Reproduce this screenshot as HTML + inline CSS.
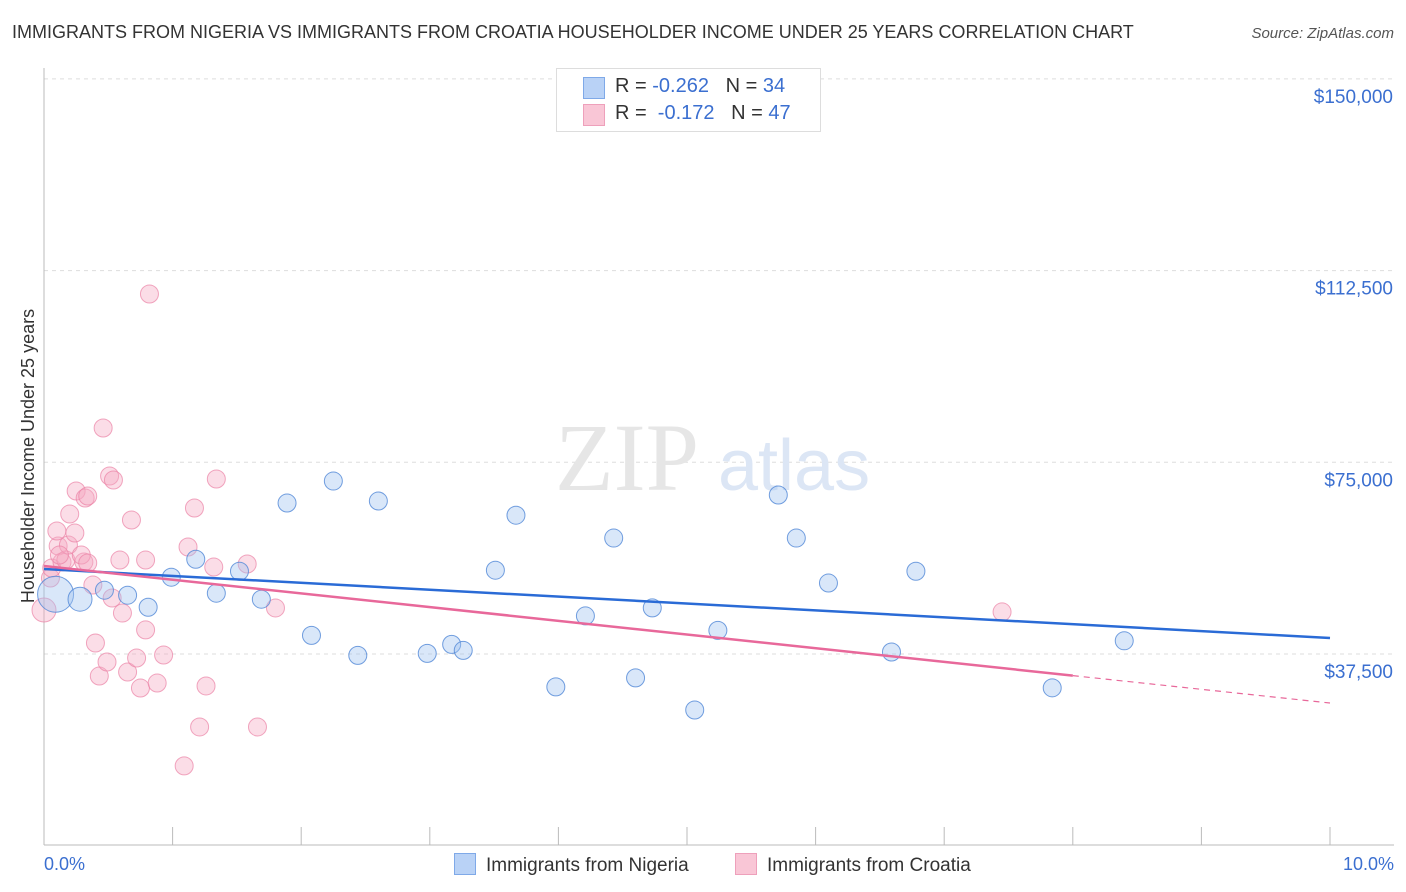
<!DOCTYPE html>
<html><head><meta charset="utf-8"><style>
body{margin:0;background:#fff;font-family:"Liberation Sans",sans-serif;}
#wrap{position:relative;width:1406px;height:892px;overflow:hidden;}
.t{position:absolute;white-space:nowrap;}
</style></head><body>
<div id="wrap">
<div class="t" style="left:12px;top:22px;font-size:18px;color:#333;">IMMIGRANTS FROM NIGERIA VS IMMIGRANTS FROM CROATIA HOUSEHOLDER INCOME UNDER 25 YEARS CORRELATION CHART</div>
<div class="t" style="right:12px;top:25px;font-size:15px;color:#555;font-style:italic;">Source: ZipAtlas.com</div>
<svg id="chart" width="1406" height="892" style="position:absolute;left:0;top:0"></svg>
</div>
<script>
const yTickValues=[37500,75000,112500,150000];
const yTickLabels=["$37,500","$75,000","$112,500","$150,000"];
const xTickLabels=["0.0%","10.0%"];
const nigeriaX=[0.09,0.28,0.47,0.65,0.81,0.99,1.18,1.34,1.52,1.69,1.89,2.08,2.25,2.44,2.6,2.98,3.17,3.26,3.51,3.67,3.98,4.21,4.43,4.60,4.73,5.06,5.24,5.71,5.85,6.1,6.59,6.78,7.84,8.4];
const nigeriaY=[49200,48220,49980,49000,46650,52520,56040,49390,53690,48220,67030,41140,71330,37230,67420,37620,39380,38200,53890,64650,31070,44950,60180,32830,46520,26540,42120,68600,60180,51380,37890,53690,30880,40080];
const nigeriaSize=[18,12,9,9,9,9,9,9,9,9,9,9,9,9,9,9,9,9,9,9,9,9,9,9,9,9,9,9,9,9,9,9,9,9];
const croatiaX=[0,0.05,0.06,0.11,0.1,0.14,0.17,0.2,0.19,0.25,0.24,0.32,0.34,0.31,0.29,0.34,0.38,0.4,0.43,0.46,0.49,0.51,0.54,0.53,0.59,0.61,0.65,0.68,0.72,0.75,0.79,0.79,0.82,0.88,0.93,1.09,1.12,1.17,1.21,1.26,1.32,1.34,1.58,1.66,1.8,7.45,0.12];
const croatiaY=[46100,52360,54320,58620,61560,55490,55880,64880,58820,69380,61170,68010,68400,55490,56860,55300,50990,39650,33190,81710,35930,72320,71540,48450,55880,45510,33970,63710,36710,30840,55880,42210,107920,31820,37300,15620,58430,66060,23230,31250,54510,71730,55100,23230,46510,45730,56860];
const croatiaSize=[12,9,9,9,9,9,9,9,9,9,9,9,9,9,9,9,9,9,9,9,9,9,9,9,9,9,9,9,9,9,9,9,9,9,9,9,9,9,9,9,9,9,9,9,9,9,9];
const nigeriaTrend=[54120,40630];
const croatiaTrend=[54710,27910];
const croatiaSolidEnd=8;

const X0=44,X1=1330,YB=845.7,PXPER=191.7/37500;
const sx=v=>X0+(v/10)*(X1-X0);
const sy=v=>YB-v*PXPER;
const svg=document.getElementById('chart');
const NS='http://www.w3.org/2000/svg';
function mk(tag,attrs){const e=document.createElementNS(NS,tag);for(const k in attrs)e.setAttribute(k,attrs[k]);svg.appendChild(e);return e;}

// gridlines and y labels
yTickValues.forEach((v,i)=>{
  const g=mk('line',{x1:44,x2:1394,y1:sy(v),y2:sy(v),stroke:'#ddd','stroke-dasharray':'4,4'});
  
  
  const t=mk('text',{x:1393,y:sy(v)+24,'text-anchor':'end','font-size':19,fill:'#3b6fd0'});
  t.textContent=yTickLabels[i];
  
  
});
// axes
const ax=mk('line',{x1:44,x2:1394,y1:845,y2:845,stroke:'#bbb'});


const ay=mk('line',{x1:44,x2:44,y1:68,y2:845,stroke:'#bbb'});


for(let i=0;i<=10;i++){
  const tk=mk('line',{x1:sx(i),x2:sx(i),y1:827,y2:845,stroke:'#bbb'});
  
  
}
const xl0=mk('text',{x:44,y:870,'font-size':18,fill:'#3b6fd0'});xl0.textContent=xTickLabels[0];


const xl1=mk('text',{x:1394,y:870,'text-anchor':'end','font-size':18,fill:'#3b6fd0'});xl1.textContent=xTickLabels[1];


const yt=mk('text',{x:0,y:0,'font-size':18,fill:'#333','text-anchor':'middle',transform:'translate(34,456) rotate(-90)'});
yt.textContent='Householder Income Under 25 years';


// watermark
const wm=mk('text',{x:555,y:490,'font-size':96,fill:'#e6e6e6','font-family':'Liberation Serif'});wm.textContent='ZIP';


const wm2=mk('text',{x:718,y:490,'font-size':72,fill:'#dce6f5'});wm2.textContent='atlas';


// points
croatiaX.forEach((v,i)=>{
  const c=mk('circle',{cx:sx(v),cy:sy(croatiaY[i]),r:croatiaSize[i],fill:'rgba(246,170,195,0.4)',stroke:'rgba(235,130,165,0.7)','stroke-width':1});
  
  
});
nigeriaX.forEach((v,i)=>{
  const c=mk('circle',{cx:sx(v),cy:sy(nigeriaY[i]),r:nigeriaSize[i],fill:'rgba(160,195,240,0.4)',stroke:'rgba(80,135,215,0.8)','stroke-width':1});
  
  
});
// trends
const tb=mk('line',{x1:sx(0),y1:sy(nigeriaTrend[0]),x2:sx(10),y2:sy(nigeriaTrend[1]),stroke:'#2a6bd6','stroke-width':2.5});


const cEnd=croatiaTrend[0]+(croatiaTrend[1]-croatiaTrend[0])*croatiaSolidEnd/10;
const tp=mk('line',{x1:sx(0),y1:sy(croatiaTrend[0]),x2:sx(croatiaSolidEnd),y2:sy(cEnd),stroke:'#e8689a','stroke-width':2.5});


const tpd=mk('line',{x1:sx(croatiaSolidEnd),y1:sy(cEnd),x2:sx(10),y2:sy(croatiaTrend[1]),stroke:'#e8689a','stroke-width':1.2,'stroke-dasharray':'6,5'});


</script>
<div class="t" style="left:556px;top:68px;width:263px;height:62px;border:1px solid #ddd;background:#fff;font-size:20px;color:#333;">
  <div style="position:absolute;left:26px;top:8px;width:20px;height:20px;background:#b9d2f6;border:1px solid #7fa9e8;"></div>
  <div style="position:absolute;left:58px;top:6px;">R = <span style="color:#3b6fd0">-0.262</span>&nbsp;&nbsp;&nbsp;N = <span style="color:#3b6fd0">34</span></div>
  <div style="position:absolute;left:26px;top:35px;width:20px;height:20px;background:#f9c6d6;border:1px solid #eea0bb;"></div>
  <div style="position:absolute;left:58px;top:33px;">R = &nbsp;<span style="color:#3b6fd0">-0.172</span>&nbsp;&nbsp;&nbsp;N = <span style="color:#3b6fd0">47</span></div>
</div>
<div class="t" style="left:454px;top:853px;font-size:19px;color:#333;">
  <span style="display:inline-block;width:20px;height:20px;background:#b9d2f6;border:1px solid #7fa9e8;vertical-align:-4px;margin-right:10px;"></span>Immigrants from Nigeria</div>
<div class="t" style="left:735px;top:853px;font-size:19px;color:#333;">
  <span style="display:inline-block;width:20px;height:20px;background:#f9c6d6;border:1px solid #eea0bb;vertical-align:-4px;margin-right:10px;"></span>Immigrants from Croatia</div>
</body></html>
